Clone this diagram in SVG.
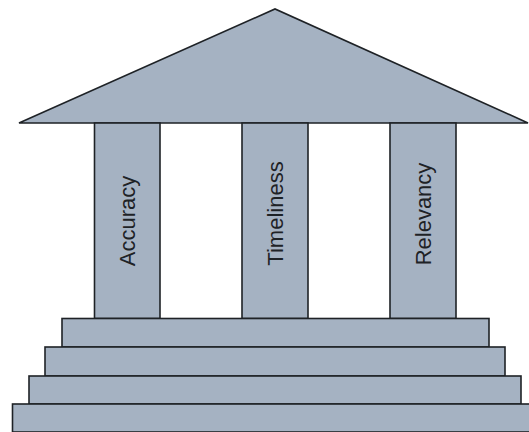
<svg xmlns="http://www.w3.org/2000/svg" width="529" height="432" viewBox="0 0 529 432">
<style>
.s{fill:#a5b2c2;stroke:#1e2226;stroke-width:1.6;stroke-linejoin:miter}
.t{font-family:"Liberation Sans",Arial,sans-serif;font-size:22px;fill:#1e2226;text-anchor:middle}
</style>
<rect width="529" height="432" fill="#ffffff"/>
<g id="roof"><polygon class="s" points="19,123 275,9 528,123"/></g>
<g id="pillar-accuracy"><rect class="s" x="94.5" y="123" width="65.5" height="195.5"/><text class="t" transform="translate(135,221) rotate(-90)">Accuracy</text></g>
<g id="pillar-timeliness"><rect class="s" x="242" y="123" width="66" height="195.5"/><text class="t" transform="translate(283,213.5) rotate(-90)">Timeliness</text></g>
<g id="pillar-relevancy"><rect class="s" x="390" y="123" width="66" height="195.5"/><text class="t" transform="translate(431,214) rotate(-90)">Relevancy</text></g>
<g id="step1"><rect class="s" x="62" y="318.5" width="427" height="28.5"/></g>
<g id="step2"><rect class="s" x="45" y="347" width="460" height="29"/></g>
<g id="step3"><rect class="s" x="29" y="376" width="492" height="28"/></g>
<g id="step4"><rect class="s" x="12.5" y="404" width="520" height="28"/></g>
</svg>
